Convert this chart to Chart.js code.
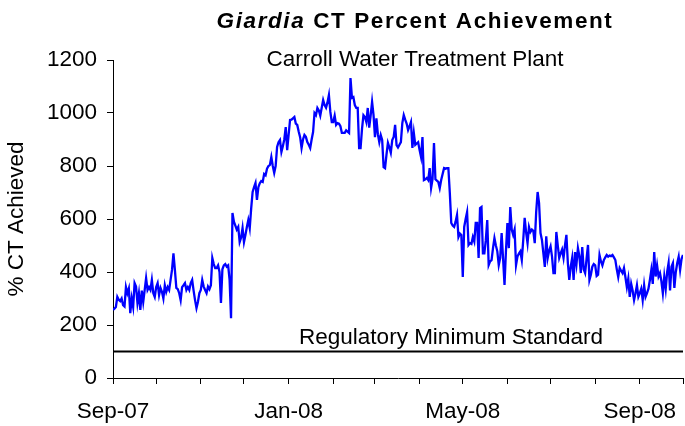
<!DOCTYPE html>
<html>
<head>
<meta charset="utf-8">
<script src="https://cdn.jsdelivr.net/npm/chart.js@4/dist/chart.umd.min.js"></script>
<style>
  html, body { margin: 0; padding: 0; background: #fff; }
  #ctChart { display: block; }
</style>
</head>
<body>
<canvas id="ctChart" width="685" height="426"></canvas>
<script>
// daily % CT achieved, starting 1 Sep 2007
const startDate = '2007-09-01';
const ctValues = [
  257, 262, 268, 306, 295, 290, 300, 275, 270, 343, 320, 338, 245, 300, 268, 358, 345, 283, 320, 257,
  330, 287, 332, 377, 332, 343, 332, 370, 320, 306, 343, 358, 313, 340, 325, 300, 350, 325, 343, 332,
  370, 408, 470, 408, 340, 335, 320, 294, 343, 350, 358, 332, 343, 332, 358, 370, 330, 294, 264, 287,
  320, 332, 370, 345, 332, 320, 345, 335, 350, 453, 430, 415, 415, 425, 400, 283, 410, 425, 430, 420,
  425, 370, 226, 623, 590, 575, 560, 570, 513, 530, 566, 513, 540, 570, 596, 566, 640, 702, 720, 736,
  672, 720, 735, 743, 740, 770, 765, 790, 800, 804, 834, 800, 774, 800, 872, 890, 898, 853, 875, 900,
  947, 860, 917, 974, 975, 980, 985, 960, 955, 930, 909, 868, 900, 917, 910, 890, 880, 868, 900, 928,
  1000, 992, 1019, 1010, 990, 1020, 1049, 1030, 1020, 1040, 1068, 1004, 966, 966, 990, 955, 962, 960, 950, 925,
  925, 925, 935, 930, 925, 1132, 1057, 1060, 1030, 1019, 1019, 868, 868, 940, 992, 985, 966, 1019, 945, 990,
  1042, 992, 909, 980, 920, 890, 917, 898, 796, 792, 843, 887, 870, 850, 898, 910, 955, 879, 870, 880,
  890, 962, 992, 975, 960, 936, 950, 966, 868, 925, 880, 885, 890, 860, 834, 909, 747, 750, 755, 747,
  792, 717, 750, 887, 750, 745, 740, 717, 747, 770, 792, 790, 792, 792, 698, 585, 575, 570, 590, 615,
  532, 545, 540, 381, 570, 600, 626, 502, 509, 506, 532, 515, 585, 585, 453, 641, 645, 470, 470, 520,
  596, 426, 440, 445, 490, 528, 500, 478, 426, 453, 547, 450, 351, 480, 585, 490, 645, 560, 540, 560,
  426, 458, 470, 478, 445, 520, 604, 550, 509, 570, 551, 560, 555, 509, 626, 702, 660, 547, 521, 470,
  419, 535, 453, 480, 497, 458, 396, 396, 551, 500, 453, 470, 485, 453, 500, 540, 434, 370, 420, 453,
  370, 475, 430, 490, 460, 396, 494, 410, 396, 450, 502, 370, 390, 420, 430, 425, 385, 390, 464, 440,
  425, 445, 455, 464, 458, 462, 460, 464, 455, 445, 410, 381, 415, 405, 396, 415, 380, 343, 375, 306,
  355, 330, 294, 320, 350, 306, 320, 337, 294, 350, 306, 320, 337, 370, 408, 355, 475, 383, 425, 383,
  396, 365, 320, 383, 337, 400, 434, 330, 420, 434, 340, 400, 434, 458, 408, 450, 464
];
const standardValue = 100;

const monthStarts = ['2007-09-01', '2007-10-01', '2007-11-01', '2007-12-01', '2008-01-01', '2008-02-01', '2008-03-01',
  '2008-04-01', '2008-05-01', '2008-06-01', '2008-07-01', '2008-08-01', '2008-09-01', '2008-10-01'];
const tickLabels = ['Sep-07', '', '', '', 'Jan-08', '', '', '', 'May-08', '', '', '', 'Sep-08', ''];

const yTicks = [0, 200, 400, 600, 800, 1000, 1200];

const DAY = 86400000;
const dayOf = d => Math.round((Date.parse(d) - Date.parse(startDate)) / DAY);
const monthDays = monthStarts.map(dayOf);
const lastDay = monthDays[monthDays.length - 1];

const fontFam = 'Arial, "Liberation Sans", sans-serif';
const fs = 22.5;

// titles + label of the standard line
const textPlugin = {
  id: 'textPlugin',
  afterDraw(chart) {
    const { ctx, chartArea, scales } = chart;
    ctx.save();
    ctx.fillStyle = '#000';
    ctx.textBaseline = 'alphabetic';

    // main title, Giardia in italics
    const cx = 415;
    ctx.letterSpacing = '1.6px';
    ctx.font = 'italic bold ' + fs + 'px ' + fontFam;
    const w1 = ctx.measureText('Giardia').width;
    ctx.font = 'bold ' + fs + 'px ' + fontFam;
    const w2 = ctx.measureText(' CT Percent Achievement').width;
    let x = cx - (w1 + w2) / 2;
    ctx.textAlign = 'left';
    ctx.font = 'italic bold ' + fs + 'px ' + fontFam;
    ctx.fillText('Giardia', x, 28);
    ctx.font = 'bold ' + fs + 'px ' + fontFam;
    ctx.fillText(' CT Percent Achievement', x + w1, 28);

    ctx.letterSpacing = '0px';
    ctx.textAlign = 'center';
    ctx.font = fs + 'px ' + fontFam;
    ctx.fillText('Carroll Water Treatment Plant', cx, 66);

    const yStd = scales.y.getPixelForValue(standardValue);
    const xStd = chartArea.left + 0.593 * (chartArea.right - chartArea.left);
    ctx.fillText('Regulatory Minimum Standard', xStd, yStd - 8);
    ctx.restore();
  }
};

new Chart(document.getElementById('ctChart'), {
  type: 'line',
  data: {
    datasets: [
      {
        label: '% CT Achieved',
        data: ctValues.map((v, i) => ({ x: i, y: v })),
        borderColor: '#0000ff',
        borderWidth: 2.3,
        pointRadius: 0,
        tension: 0
      },
      {
        label: 'Regulatory Minimum Standard',
        data: [{ x: 0, y: standardValue }, { x: lastDay, y: standardValue }],
        borderColor: '#000',
        borderWidth: 2,
        pointRadius: 0
      }
    ]
  },
  options: {
    responsive: false,
    animation: false,
    layout: { padding: { top: 60, right: 2, left: 0, bottom: 0 } },
    plugins: {
      legend: { display: false },
      tooltip: { enabled: false }
    },
    scales: {
      x: {
        type: 'linear',
        min: 0,
        max: lastDay,
        afterBuildTicks: axis => { axis.ticks = monthDays.map(v => ({ value: v })); },
        afterFit: scale => { scale.height = 48; scale.paddingLeft = 0; scale.paddingRight = 0; },
        ticks: {
          autoSkip: false,
          maxRotation: 0,
          padding: 14,
          color: '#000',
          font: { family: fontFam, size: fs },
          callback: (v, i) => tickLabels[i]
        },
        grid: { drawOnChartArea: false, drawTicks: true, tickLength: 6, color: '#000' },
        border: { color: '#000', width: 1 }
      },
      y: {
        min: 0,
        max: 1200,
        afterBuildTicks: axis => { axis.ticks = yTicks.map(v => ({ value: v })); },
        afterFit: scale => { scale.width = 113; },
        title: {
          display: true,
          text: '% CT Achieved',
          color: '#000',
          font: { family: fontFam, size: fs },
          padding: { top: 3, bottom: 0 }
        },
        ticks: {
          padding: 10,
          color: '#000',
          font: { family: fontFam, size: fs },
          callback: v => String(v)
        },
        grid: { drawOnChartArea: false, drawTicks: true, tickLength: 6, color: '#000' },
        border: { color: '#000', width: 1 }
      }
    }
  },
  plugins: [textPlugin]
});
</script>
</body>
</html>
